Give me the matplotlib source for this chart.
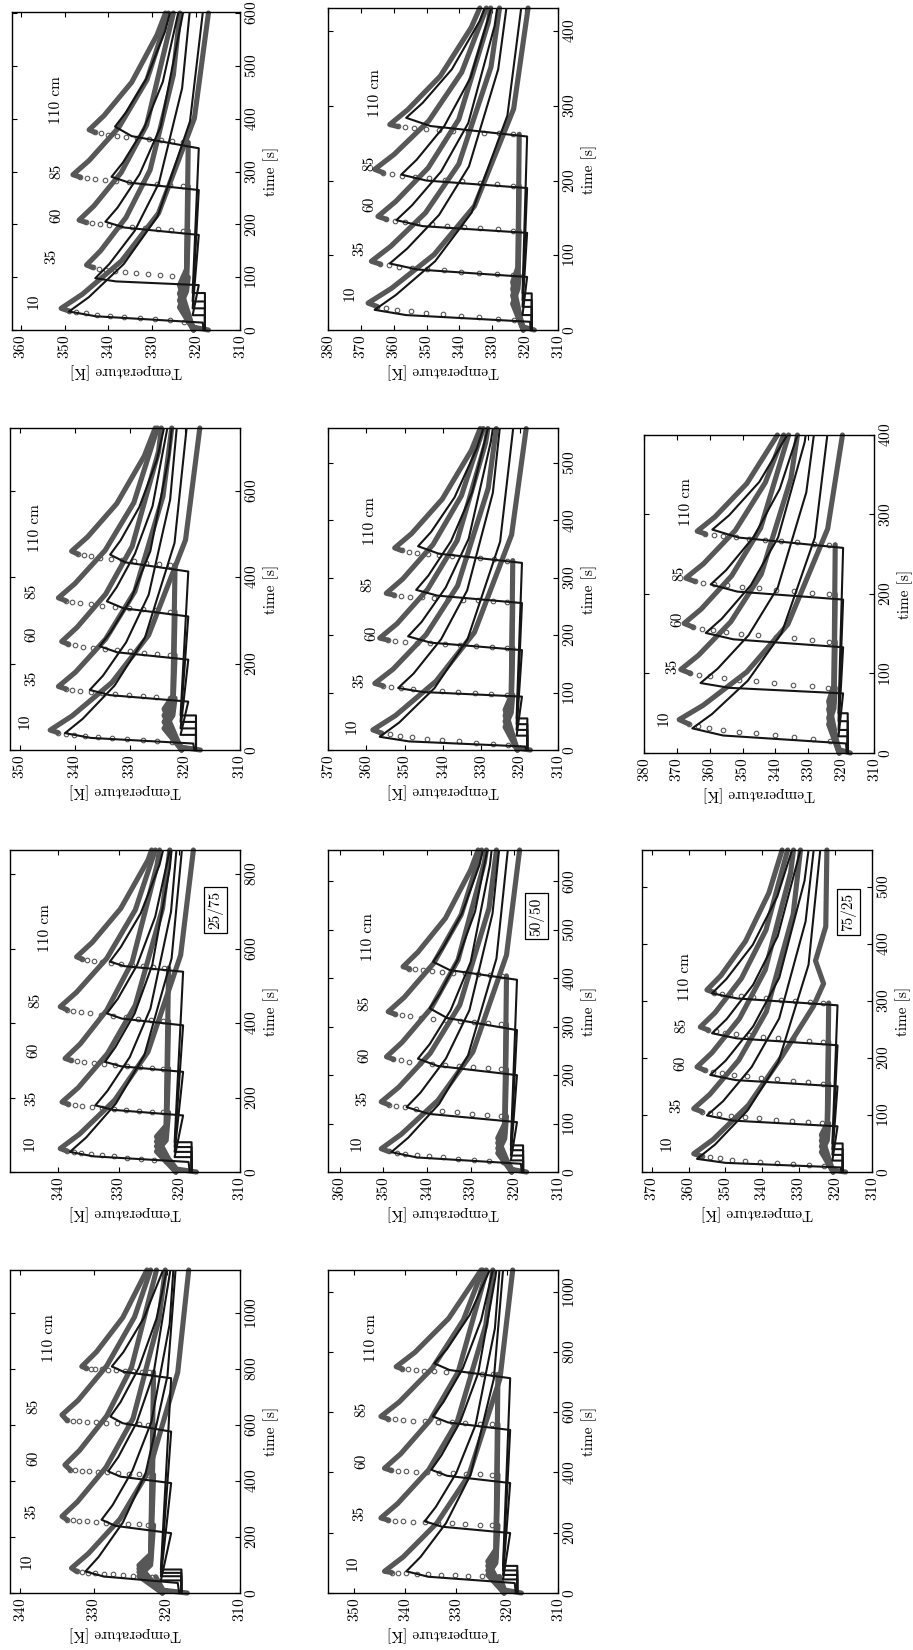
#!/usr/bin/env python3
"""Page of bed temperature histories, printed landscape and turned a quarter
turn: measured thermocouples (grey, open circles on the fast rise) against
the model (black) at 10, 35, 60, 85 and 110 cm for ten runs."""
import matplotlib.pyplot as plt

plt.rcParams["font.family"] = "cmr10"
plt.rcParams["mathtext.fontset"] = "cm"
plt.rcParams["axes.formatter.use_mathtext"] = True
plt.rcParams["font.size"] = 11

GREY = "#575757"
INK = "#151515"
DEPTHS = ["10", "35", "60", "85", "110 cm"]

# ---- data: (time [s], temperature [K]) -------------------------------------
# *_SIM  model curve per thermocouple
# *_PRE  measured, before the front arrives
# *_RISE measured samples on the fast rise (drawn as open circles)
# *_POST measured, peak and cooling

A1_SIM = [
    [(0, 318.3), (14, 318.5), (26, 342.9), (35, 349.0), (62, 344.5), (125, 336.5), (215, 328.8), (395, 321.4), (600, 318.5)],
    [(0, 318.0), (28, 318.0), (28, 320.8), (85, 319.4), (92, 338.3), (98, 343.0), (125, 339.8), (188, 334.0), (278, 328.5), (458, 323.2), (600, 321.5)],
    [(0, 318.0), (41, 318.0), (41, 320.8), (180, 319.4), (194, 336.4), (205, 340.7), (232, 337.9), (295, 332.9), (385, 328.1), (600, 323.0)],
    [(0, 318.0), (54, 318.0), (54, 320.8), (265, 319.4), (279, 335.3), (290, 339.3), (317, 336.7), (380, 332.0), (470, 327.6), (600, 324.1)],
    [(0, 318.0), (70, 318.0), (70, 320.8), (344, 319.4), (367, 334.7), (385, 338.5), (412, 336.0), (475, 331.4), (565, 327.1), (600, 326.0)],
]
A1_PRE = [
    [(0, 317.2), (5, 320.5), (16, 321.5)],
    [(0, 320.6), (43, 323.8), (73, 322.2), (100, 321.8)],
    [(0, 320.6), (56, 323.8), (86, 322.2), (188, 321.8)],
    [(0, 320.6), (69, 323.8), (99, 322.2), (272, 321.8)],
    [(0, 320.6), (85, 323.8), (115, 322.2), (355, 321.8)],
]
A1_RISE = [
    [(16, 322.7), (18.2, 325.9), (20.4, 329.4), (22.7, 332.9), (24.9, 336.4), (27.1, 339.7), (29.3, 342.6), (31.6, 345.2), (33.8, 347.3), (36.0, 349.0)],
    [(100, 322.9), (102, 325.5), (104.1, 328.2), (106.1, 331.0), (108.2, 333.7), (110.2, 336.3), (112.3, 338.6), (114.3, 340.6), (116.4, 342.2), (118.4, 343.6)],
    [(188, 323.0), (189.8, 325.7), (191.6, 328.7), (193.3, 331.6), (195.1, 334.6), (196.9, 337.3), (198.7, 339.8), (200.4, 342.0), (202.2, 343.7), (204.0, 345.2)],
    [(272, 323.0), (274, 325.9), (275.9, 329.0), (277.9, 332.2), (279.8, 335.3), (281.8, 338.2), (283.7, 340.8), (285.7, 343.1), (287.6, 345.0), (289.6, 346.5)],
    [(355, 322.9), (357.1, 325.4), (359.3, 328.0), (361.4, 330.7), (363.5, 333.4), (365.7, 335.9), (367.8, 338.1), (369.9, 340.1), (372.1, 341.7), (374.2, 343.1)],
]
A1_POST = [
    [(41, 350.8), (68, 345.9), (131, 337.0), (221, 328.6), (401, 320.4), (600, 317.2)],
    [(123, 345.0), (150, 341.8), (213, 336.0), (303, 330.5), (483, 325.2), (600, 323.7)],
    [(208, 346.7), (235, 343.3), (298, 337.1), (388, 331.3), (600, 325.2)],
    [(294, 348.1), (321, 344.4), (384, 337.6), (474, 331.2), (600, 326.3)],
    [(379, 344.4), (406, 341.0), (469, 334.7), (559, 328.9), (600, 327.0)],
]

A2_SIM = [
    [(0, 318.3), (15, 318.5), (28, 337.1), (39, 341.8), (72, 338.6), (149, 332.8), (259, 327.3), (479, 321.9), (745, 319.7)],
    [(0, 318.0), (35, 318.0), (35, 320.8), (112, 319.4), (127, 333.7), (139, 337.3), (172, 334.9), (249, 330.7), (359, 326.6), (579, 322.7), (745, 321.5)],
    [(0, 318.0), (50, 318.0), (50, 320.8), (209, 319.4), (226, 332.3), (240, 335.5), (273, 333.5), (350, 329.8), (460, 326.3), (680, 322.9), (745, 322.4)],
    [(0, 318.0), (65, 318.0), (65, 320.8), (309, 319.4), (328, 331.2), (344, 334.2), (377, 332.4), (454, 329.1), (564, 325.9), (745, 323.2)],
    [(0, 318.0), (80, 318.0), (80, 320.8), (413, 319.4), (434, 330.8), (452, 333.6), (485, 331.7), (562, 328.3), (672, 325.1), (745, 323.8)],
]
A2_PRE = [
    [(0, 317.2), (6, 320.5), (18, 321.5)],
    [(0, 320.6), (50, 323.8), (80, 322.2), (120, 321.8)],
    [(0, 320.6), (65, 323.8), (95, 322.2), (220, 321.8)],
    [(0, 320.6), (80, 323.8), (110, 322.2), (320, 321.8)],
    [(0, 320.6), (95, 323.8), (125, 322.2), (428, 321.8)],
]
A2_RISE = [
    [(18, 322.4), (20.5, 325.0), (23, 327.7), (25.5, 330.5), (28, 333.2), (30.4, 335.8), (32.9, 338.1), (35.4, 340.1), (37.9, 341.7), (40.4, 343.1)],
    [(120, 322.8), (122.4, 325.2), (124.8, 327.7), (127.2, 330.2), (129.6, 332.7), (132, 335.0), (134.4, 337.1), (136.8, 339.0), (139.2, 340.5), (141.6, 341.7)],
    [(220, 322.8), (222.8, 325.1), (225.5, 327.5), (228.3, 330.0), (231, 332.4), (233.8, 334.6), (236.5, 336.7), (239.3, 338.5), (242, 340.0), (244.8, 341.2)],
    [(320, 322.8), (322.8, 325.2), (325.7, 327.7), (328.5, 330.2), (331.4, 332.7), (334.2, 335.0), (337.1, 337.1), (339.9, 339.0), (342.8, 340.5), (345.6, 341.7)],
    [(428, 322.7), (430.8, 324.8), (433.7, 327.0), (436.5, 329.3), (439.4, 331.5), (442.2, 333.5), (445.1, 335.4), (447.9, 337.1), (450.8, 338.4), (453.6, 339.5)],
]
A2_POST = [
    [(46, 344.5), (79, 340.5), (156, 333.3), (266, 326.6), (486, 319.9), (745, 317.3)],
    [(147, 343.0), (180, 339.9), (257, 334.4), (367, 329.1), (587, 324.0), (745, 322.4)],
    [(251, 342.4), (284, 339.6), (361, 334.4), (471, 329.6), (691, 324.8), (745, 324.3)],
    [(352, 343.0), (385, 340.0), (462, 334.5), (572, 329.3), (745, 325.0)],
    [(460, 340.6), (493, 337.7), (570, 332.4), (680, 327.4), (745, 325.4)],
]

A3_SIM = [
    [(0, 318.3), (27, 318.5), (42, 334.2), (54, 338.1), (93, 335.4), (184, 330.5), (314, 325.8), (574, 321.3), (865, 319.6)],
    [(0, 318.0), (40, 318.0), (40, 320.8), (152, 319.4), (167, 331.0), (179, 333.9), (218, 331.9), (309, 328.2), (439, 324.8), (699, 321.4), (865, 320.5)],
    [(0, 318.0), (54, 318.0), (54, 320.8), (269, 319.4), (284, 329.7), (296, 332.3), (335, 330.6), (426, 327.4), (556, 324.5), (816, 321.6), (865, 321.3)],
    [(0, 318.0), (67, 318.0), (67, 320.8), (394, 319.4), (412, 329.5), (426, 332.0), (465, 330.2), (556, 327.0), (686, 324.0), (865, 321.6)],
    [(0, 318.0), (80, 318.0), (80, 320.8), (538, 319.4), (553, 329.1), (565, 331.5), (604, 329.7), (695, 326.4), (825, 323.3), (865, 322.7)],
]
A3_PRE = [
    [(0, 317.2), (8, 320.5), (30, 321.5)],
    [(0, 320.6), (55, 323.8), (85, 322.2), (160, 321.8)],
    [(0, 320.6), (69, 323.8), (99, 322.2), (278, 321.8)],
    [(0, 320.6), (82, 323.8), (112, 322.2), (405, 321.8)],
    [(0, 320.6), (95, 323.8), (125, 322.2), (548, 321.8)],
]
A3_RISE = [
    [(30, 322.2), (32.9, 324.2), (35.9, 326.4), (38.8, 328.6), (41.7, 330.8), (44.7, 332.8), (47.6, 334.6), (50.5, 336.2), (53.5, 337.5), (56.4, 338.6)],
    [(160, 322.7), (162.5, 324.6), (165, 326.7), (167.5, 328.8), (170, 330.9), (172.4, 332.8), (174.9, 334.5), (177.4, 336.1), (179.9, 337.3), (182.4, 338.4)],
    [(278, 322.7), (280.4, 324.5), (282.8, 326.6), (285.2, 328.6), (287.6, 330.6), (290, 332.5), (292.4, 334.2), (294.8, 335.7), (297.2, 336.9), (299.6, 337.9)],
    [(405, 322.7), (408.5, 324.7), (411.9, 326.8), (415.4, 328.9), (418.9, 331.0), (422.3, 333.0), (425.8, 334.7), (429.3, 336.3), (432.7, 337.6), (436.2, 338.6)],
    [(548, 322.6), (550.7, 324.3), (553.3, 326.1), (556, 327.9), (558.7, 329.7), (561.3, 331.3), (564, 332.8), (566.7, 334.2), (569.3, 335.2), (572, 336.1)],
]
A3_POST = [
    [(63, 339.7), (102, 336.5), (193, 330.7), (323, 325.2), (583, 319.8), (865, 317.7)],
    [(188, 339.4), (227, 336.7), (318, 331.9), (448, 327.3), (708, 322.8), (865, 321.6)],
    [(305, 338.9), (344, 336.4), (435, 332.0), (565, 327.8), (825, 323.7), (865, 323.3)],
    [(444, 339.7), (483, 337.0), (574, 332.0), (704, 327.3), (865, 324.0)],
    [(578, 337.0), (617, 334.4), (708, 329.7), (838, 325.2), (865, 324.6)],
]

A4_SIM = [
    [(0, 318.3), (36, 318.5), (59, 328.6), (77, 331.1), (129, 329.3), (252, 326.0), (427, 322.9), (777, 319.9), (1155, 318.8)],
    [(0, 318.0), (45, 318.0), (45, 320.8), (214, 319.4), (240, 327.0), (262, 328.9), (314, 327.4), (437, 324.7), (612, 322.1), (962, 319.6), (1155, 319.1)],
    [(0, 318.0), (60, 318.0), (60, 320.8), (393, 319.4), (416, 326.3), (435, 328.0), (487, 326.6), (610, 324.1), (785, 321.8), (1155, 319.5)],
    [(0, 318.0), (72, 318.0), (72, 320.8), (577, 319.4), (607, 326.0), (631, 327.7), (683, 326.3), (806, 323.8), (981, 321.4), (1155, 320.0)],
    [(0, 318.0), (84, 318.0), (84, 320.8), (768, 319.4), (791, 325.9), (810, 327.5), (862, 325.9), (985, 323.1), (1155, 320.5)],
]
A4_PRE = [
    [(0, 317.2), (10, 320.5), (58, 321.5)],
    [(0, 320.6), (60, 323.8), (100, 322.2), (243, 321.8)],
    [(0, 320.6), (75, 323.8), (115, 322.2), (423, 321.8)],
    [(0, 320.6), (87, 323.8), (127, 322.2), (601, 321.8)],
    [(0, 320.6), (99, 323.8), (139, 322.2), (790, 321.8)],
]
A4_RISE = [
    [(58, 322.0), (60.1, 323.2), (62.2, 324.6), (64.3, 326.0), (66.4, 327.4), (68.6, 328.6), (70.7, 329.8), (72.8, 330.8), (74.9, 331.6), (77, 332.3)],
    [(243, 322.5), (245.1, 323.8), (247.2, 325.3), (249.3, 326.8), (251.4, 328.3), (253.6, 329.6), (255.7, 330.9), (257.8, 332.0), (259.9, 332.8), (262, 333.6)],
    [(423, 322.5), (425, 323.8), (427, 325.2), (429, 326.6), (431, 328.1), (433, 329.4), (435, 330.6), (437, 331.6), (439, 332.5), (441, 333.2)],
    [(601, 322.5), (602.8, 323.8), (604.6, 325.3), (606.3, 326.8), (608.1, 328.3), (609.9, 329.6), (611.7, 330.9), (613.4, 332.0), (615.2, 332.8), (617, 333.6)],
    [(790, 322.4), (791.6, 323.4), (793.1, 324.6), (794.7, 325.7), (796.2, 326.9), (797.8, 328.0), (799.3, 328.9), (800.9, 329.8), (802.4, 330.4), (804, 331.0)],
]
A4_POST = [
    [(89, 333.0), (141, 330.7), (264, 326.4), (439, 322.4), (789, 318.5), (1155, 317.0)],
    [(274, 334.3), (326, 332.2), (449, 328.3), (624, 324.6), (974, 321.1), (1155, 320.2)],
    [(458, 333.9), (510, 331.9), (633, 328.2), (808, 324.8), (1155, 321.4)],
    [(637, 334.3), (689, 332.1), (812, 328.2), (987, 324.4), (1155, 322.2)],
    [(810, 331.6), (862, 329.6), (985, 326.0), (1155, 322.7)],
]

B1_SIM = [
    [(0, 318.3), (11, 318.5), (20, 356.3), (27, 365.8), (47, 359.3), (92, 347.4), (157, 336.3), (287, 325.4), (431, 321.2)],
    [(0, 318.0), (20, 318.0), (20, 320.8), (71, 319.4), (81, 352.8), (89, 361.2), (109, 355.9), (154, 346.2), (219, 337.1), (349, 328.2), (431, 325.7)],
    [(0, 318.0), (31, 318.0), (31, 320.8), (130, 319.4), (139, 351.2), (147, 359.2), (167, 354.4), (212, 345.6), (277, 337.3), (407, 329.3), (431, 328.5)],
    [(0, 318.0), (40, 318.0), (40, 320.8), (190, 319.4), (200, 350.0), (208, 357.7), (228, 353.0), (273, 344.6), (338, 336.6), (431, 330.3)],
    [(0, 318.0), (49, 318.0), (49, 320.8), (259, 319.4), (273, 348.8), (284, 356.2), (304, 351.2), (349, 342.3), (414, 333.8), (431, 332.3)],
]
B1_PRE = [
    [(0, 317.2), (4, 320.5), (13, 321.5)],
    [(0, 320.6), (35, 323.8), (55, 322.2), (73, 321.8)],
    [(0, 320.6), (46, 323.8), (66, 322.2), (133, 321.8)],
    [(0, 320.6), (55, 323.8), (75, 322.2), (193, 321.8)],
    [(0, 320.6), (64, 323.8), (84, 322.2), (262, 321.8)],
]
B1_RISE = [
    [(13, 323.4), (15, 328.4), (17.1, 334.0), (19.1, 339.6), (21.2, 345.1), (23.2, 350.2), (25.3, 354.8), (27.3, 359.0), (29.4, 362.2), (31.4, 365.0)],
    [(73, 323.8), (74.7, 328.7), (76.4, 334.1), (78.1, 339.5), (79.8, 344.8), (81.4, 349.8), (83.1, 354.3), (84.8, 358.3), (86.5, 361.4), (88.2, 364.1)],
    [(133, 323.7), (134.7, 328.4), (136.4, 333.6), (138.1, 338.7), (139.8, 343.8), (141.4, 348.5), (143.1, 352.8), (144.8, 356.7), (146.5, 359.7), (148.2, 362.2)],
    [(193, 323.8), (195, 328.6), (196.9, 333.8), (198.9, 339.1), (200.8, 344.3), (202.8, 349.2), (204.7, 353.5), (206.7, 357.5), (208.6, 360.5), (210.6, 363.2)],
    [(262, 323.6), (263.2, 327.9), (264.3, 332.6), (265.5, 337.3), (266.6, 342.0), (267.8, 346.3), (269, 350.2), (270.1, 353.8), (271.3, 356.5), (272.4, 358.8)],
]
B1_POST = [
    [(36, 367.8), (56, 360.6), (101, 347.7), (166, 335.4), (296, 323.5), (431, 319.1)],
    [(92, 366.8), (112, 360.9), (157, 350.3), (222, 340.2), (352, 330.4), (431, 327.8)],
    [(152, 364.8), (172, 359.4), (217, 349.5), (282, 340.2), (412, 331.2), (431, 330.5)],
    [(215, 365.8), (235, 359.9), (280, 349.3), (345, 339.3), (431, 331.8)],
    [(275, 361.2), (295, 355.7), (340, 345.8), (405, 336.4), (431, 333.8)],
]

B2_SIM = [
    [(0, 318.3), (6, 318.5), (15, 348.9), (23, 356.5), (48, 351.4), (108, 342.2), (193, 333.6), (363, 325.1), (560, 321.7)],
    [(0, 318.0), (25, 318.0), (25, 320.8), (93, 319.4), (101, 345.2), (108, 351.7), (133, 347.7), (193, 340.5), (278, 333.7), (448, 327.0), (560, 325.2)],
    [(0, 318.0), (35, 318.0), (35, 320.8), (174, 319.4), (187, 343.2), (198, 349.1), (223, 345.6), (283, 339.3), (368, 333.3), (538, 327.5), (560, 327.0)],
    [(0, 318.0), (45, 318.0), (45, 320.8), (256, 319.4), (269, 341.5), (279, 347.0), (304, 343.8), (364, 337.9), (449, 332.4), (560, 328.3)],
    [(0, 318.0), (55, 318.0), (55, 320.8), (326, 319.4), (342, 341.1), (355, 346.5), (380, 343.1), (440, 337.0), (525, 331.2), (560, 329.5)],
]
B2_PRE = [
    [(0, 317.2), (3, 320.5), (8, 321.5)],
    [(0, 320.6), (40, 323.8), (65, 322.2), (96, 321.8)],
    [(0, 320.6), (50, 323.8), (75, 322.2), (178, 321.8)],
    [(0, 320.6), (60, 323.8), (85, 322.2), (258, 321.8)],
    [(0, 320.6), (70, 323.8), (95, 322.2), (330, 321.8)],
]
B2_RISE = [
    [(8, 323.0), (10.4, 327.0), (12.8, 331.4), (15.2, 335.9), (17.6, 340.3), (20, 344.3), (22.4, 348.0), (24.8, 351.3), (27.2, 353.9), (29.6, 356.1)],
    [(96, 323.4), (97.8, 327.4), (99.6, 331.7), (101.3, 336.0), (103.1, 340.3), (104.9, 344.2), (106.7, 347.8), (108.4, 351.0), (110.2, 353.5), (112, 355.7)],
    [(178, 323.4), (179.5, 327.2), (181, 331.3), (182.5, 335.5), (184, 339.6), (185.6, 343.4), (187.1, 346.8), (188.6, 349.9), (190.1, 352.4), (191.6, 354.4)],
    [(258, 323.3), (259.3, 326.9), (260.7, 330.9), (262, 334.8), (263.3, 338.7), (264.7, 342.3), (266, 345.6), (267.3, 348.6), (268.7, 350.9), (270, 352.8)],
    [(330, 323.2), (332, 326.6), (333.9, 330.3), (335.9, 333.9), (337.8, 337.6), (339.8, 341.0), (341.7, 344.0), (343.7, 346.8), (345.6, 348.9), (347.6, 350.8)],
]
B2_POST = [
    [(35, 358.3), (60, 352.4), (120, 341.8), (205, 331.8), (375, 322.1), (560, 318.3)],
    [(116, 357.8), (141, 353.0), (201, 344.4), (286, 336.2), (456, 328.2), (560, 326.1)],
    [(195, 356.5), (220, 352.0), (280, 344.0), (365, 336.3), (535, 328.9), (560, 328.3)],
    [(273, 354.8), (298, 350.5), (358, 342.6), (443, 335.2), (560, 329.5)],
    [(352, 352.6), (377, 348.2), (437, 340.2), (522, 332.6), (560, 330.3)],
]

B3_SIM = [
    [(0, 318.3), (17, 318.5), (30, 342.3), (41, 348.2), (71, 344.3), (141, 337.2), (241, 330.6), (441, 324.1), (665, 321.5)],
    [(0, 318.0), (24, 318.0), (24, 320.8), (103, 319.4), (120, 339.6), (134, 344.7), (164, 341.5), (234, 335.7), (334, 330.3), (534, 325.0), (665, 323.5)],
    [(0, 318.0), (34, 318.0), (34, 320.8), (200, 319.4), (219, 337.6), (234, 342.1), (264, 339.4), (334, 334.6), (434, 330.0), (634, 325.6), (665, 325.2)],
    [(0, 318.0), (45, 318.0), (45, 320.8), (293, 319.4), (318, 335.4), (338, 339.4), (368, 337.1), (438, 333.0), (538, 329.0), (665, 326.2)],
    [(0, 318.0), (55, 318.0), (55, 320.8), (397, 319.4), (417, 334.8), (434, 338.6), (464, 336.3), (534, 332.0), (634, 328.0), (665, 327.2)],
]
B3_PRE = [
    [(0, 317.2), (5, 320.5), (20, 321.5)],
    [(0, 320.6), (39, 323.8), (69, 322.2), (115, 321.8)],
    [(0, 320.6), (49, 323.8), (79, 322.2), (212, 321.8)],
    [(0, 320.6), (60, 323.8), (90, 322.2), (305, 321.8)],
    [(0, 320.6), (70, 323.8), (100, 322.2), (405, 321.8)],
]
B3_RISE = [
    [(20, 322.7), (22.5, 325.9), (25, 329.3), (27.5, 332.8), (30, 336.3), (32.4, 339.5), (34.9, 342.4), (37.4, 345.0), (39.9, 347.0), (42.4, 348.8)],
    [(115, 323.1), (117.7, 326.3), (120.3, 329.7), (123, 333.1), (125.7, 336.5), (128.3, 339.7), (131, 342.5), (133.7, 345.1), (136.3, 347.1), (139, 348.8)],
    [(212, 323.1), (214.3, 326.1), (216.6, 329.4), (218.9, 332.6), (221.2, 335.9), (223.6, 338.9), (225.9, 341.7), (228.2, 344.1), (230.5, 346.0), (232.8, 347.7)],
    [(305, 323.1), (307.3, 326.0), (309.6, 329.3), (311.9, 332.5), (314.2, 335.7), (316.6, 338.7), (318.9, 341.4), (321.2, 343.8), (323.5, 345.7), (325.8, 347.3)],
    [(405, 322.9), (406.7, 325.5), (408.4, 328.3), (410.1, 331.2), (411.8, 334.0), (413.4, 336.6), (415.1, 338.9), (416.8, 341.0), (418.5, 342.7), (420.2, 344.1)],
]
B3_POST = [
    [(48, 350.5), (78, 345.9), (148, 337.5), (248, 329.5), (448, 321.8), (665, 318.8)],
    [(145, 350.5), (175, 346.5), (245, 339.3), (345, 332.5), (545, 325.8), (665, 324.1)],
    [(238, 349.3), (268, 345.7), (338, 339.1), (438, 332.9), (638, 326.9), (665, 326.4)],
    [(331, 348.9), (361, 345.2), (431, 338.5), (531, 332.2), (665, 327.5)],
    [(424, 345.5), (454, 342.1), (524, 335.8), (624, 330.0), (665, 328.3)],
]

B4_SIM = [
    [(0, 318.3), (33, 318.5), (54, 335.5), (72, 339.8), (120, 337.0), (232, 332.0), (392, 327.2), (712, 322.6), (1072, 320.8)],
    [(0, 318.0), (45, 318.0), (45, 320.8), (199, 319.4), (220, 332.8), (238, 336.2), (286, 334.0), (398, 330.0), (558, 326.2), (878, 322.4), (1072, 321.5)],
    [(0, 318.0), (60, 318.0), (60, 320.8), (365, 319.4), (389, 331.8), (409, 334.9), (457, 332.9), (569, 329.2), (729, 325.7), (1049, 322.3), (1072, 322.1)],
    [(0, 318.0), (75, 318.0), (75, 320.8), (541, 319.4), (566, 331.6), (586, 334.6), (634, 332.5), (746, 328.7), (906, 325.1), (1072, 322.8)],
    [(0, 318.0), (90, 318.0), (90, 320.8), (713, 319.4), (740, 331.3), (762, 334.3), (810, 331.8), (922, 327.4), (1072, 323.4)],
]
B4_PRE = [
    [(0, 317.2), (10, 320.5), (55, 321.5)],
    [(0, 320.6), (60, 323.8), (100, 322.2), (225, 321.8)],
    [(0, 320.6), (75, 323.8), (115, 322.2), (393, 321.8)],
    [(0, 320.6), (90, 323.8), (130, 322.2), (560, 321.8)],
    [(0, 320.6), (105, 323.8), (145, 322.2), (726, 321.8)],
]
B4_RISE = [
    [(55, 322.4), (56.4, 324.9), (57.9, 327.6), (59.3, 330.3), (60.8, 333.0), (62.2, 335.5), (63.7, 337.8), (65.1, 339.8), (66.6, 341.4), (68, 342.7)],
    [(225, 322.9), (226.9, 325.4), (228.8, 328.2), (230.7, 330.9), (232.6, 333.6), (234.4, 336.1), (236.3, 338.4), (238.2, 340.5), (240.1, 342.1), (242, 343.4)],
    [(393, 322.9), (394.6, 325.3), (396.1, 328.0), (397.7, 330.6), (399.2, 333.3), (400.8, 335.7), (402.3, 337.9), (403.9, 339.9), (405.4, 341.4), (407, 342.8)],
    [(560, 322.9), (562, 325.4), (564, 328.2), (566, 330.9), (568, 333.6), (570, 336.1), (572, 338.4), (574, 340.5), (576, 342.1), (578, 343.4)],
    [(726, 322.8), (728, 325.0), (730, 327.3), (732, 329.7), (734, 332.1), (736, 334.3), (738, 336.3), (740, 338.0), (742, 339.4), (744, 340.6)],
]
B4_POST = [
    [(72, 344.1), (120, 340.4), (232, 333.8), (392, 327.5), (712, 321.4), (1072, 318.9)],
    [(249, 344.8), (297, 341.5), (409, 335.4), (569, 329.8), (889, 324.2), (1072, 322.8)],
    [(414, 344.1), (462, 340.9), (574, 335.1), (734, 329.6), (1054, 324.3), (1072, 324.1)],
    [(586, 344.8), (634, 341.2), (746, 334.7), (906, 328.6), (1072, 324.8)],
    [(751, 341.8), (799, 338.1), (911, 331.5), (1072, 325.1)],
]

C2_SIM = [
    [(0, 318.3), (12, 318.5), (22, 355.9), (31, 365.3), (49, 359.3), (91, 348.4), (151, 338.1), (271, 328.0), (400, 324.2)],
    [(0, 318.0), (21, 318.0), (21, 320.8), (75, 319.4), (82, 354.1), (88, 362.8), (106, 357.6), (148, 348.2), (208, 339.3), (328, 330.6), (400, 328.3)],
    [(0, 318.0), (29, 318.0), (29, 320.8), (133, 319.4), (143, 352.8), (151, 361.2), (169, 356.3), (211, 347.5), (271, 339.2), (391, 331.1), (400, 330.8)],
    [(0, 318.0), (40, 318.0), (40, 320.8), (193, 319.4), (203, 351.6), (212, 359.7), (230, 355.0), (272, 346.6), (332, 338.7), (400, 333.3)],
    [(0, 318.0), (50, 318.0), (50, 320.8), (258, 319.4), (271, 351.2), (281, 359.2), (299, 354.1), (341, 344.9), (400, 336.4)],
]
C2_PRE = [
    [(0, 317.2), (4, 320.5), (15, 321.5)],
    [(0, 320.6), (36, 323.8), (56, 322.2), (82, 321.8)],
    [(0, 320.6), (44, 323.8), (64, 322.2), (140, 321.8)],
    [(0, 320.6), (55, 323.8), (75, 322.2), (200, 321.8)],
    [(0, 320.6), (65, 323.8), (85, 322.2), (262, 321.8)],
]
C2_RISE = [
    [(15, 323.4), (17.4, 328.7), (19.8, 334.4), (22.2, 340.1), (24.6, 345.9), (27, 351.1), (29.4, 355.9), (31.8, 360.2), (34.2, 363.6), (36.6, 366.4)],
    [(82, 323.9), (84, 329.0), (86.1, 334.6), (88.1, 340.3), (90.2, 345.9), (92.2, 351.0), (94.3, 355.7), (96.3, 359.9), (98.4, 363.2), (100.4, 366.0)],
    [(140, 323.8), (142, 328.9), (144.1, 334.4), (146.1, 339.9), (148.2, 345.4), (150.2, 350.4), (152.3, 355.0), (154.3, 359.1), (156.4, 362.3), (158.4, 365.1)],
    [(200, 323.8), (201.8, 328.8), (203.6, 334.2), (205.3, 339.7), (207.1, 345.1), (208.9, 350.1), (210.7, 354.6), (212.4, 358.7), (214.2, 361.9), (216, 364.6)],
    [(262, 323.7), (263.5, 328.3), (265, 333.3), (266.5, 338.3), (268, 343.3), (269.6, 347.9), (271.1, 352.1), (272.6, 355.9), (274.1, 358.8), (275.6, 361.3)],
]
C2_POST = [
    [(42, 369.3), (60, 362.0), (102, 348.7), (162, 336.2), (282, 324.1), (400, 319.6)],
    [(105, 368.8), (123, 363.4), (165, 353.6), (225, 344.3), (345, 335.3), (400, 333.3)],
    [(163, 367.8), (181, 362.6), (223, 353.3), (283, 344.5), (400, 336.0)],
    [(220, 367.3), (238, 361.9), (280, 352.2), (340, 343.1), (400, 337.5)],
    [(279, 363.8), (297, 358.4), (339, 348.7), (400, 339.4)],
]

C3_SIM = [
    [(0, 318.3), (8, 318.5), (16, 349.9), (23, 357.7), (48, 352.8), (108, 343.9), (193, 335.5), (363, 327.3), (564, 324.1)],
    [(0, 318.0), (20, 318.0), (20, 320.8), (80, 319.4), (90, 347.9), (99, 355.0), (124, 350.6), (184, 342.8), (269, 335.3), (439, 328.1), (564, 325.9)],
    [(0, 318.0), (30, 318.0), (30, 320.8), (150, 319.4), (161, 347.2), (170, 354.1), (195, 349.9), (255, 342.4), (340, 335.3), (510, 328.4), (564, 327.3)],
    [(0, 318.0), (40, 318.0), (40, 320.8), (222, 319.4), (234, 346.8), (243, 353.6), (268, 349.6), (328, 342.4), (413, 335.7), (564, 329.5)],
    [(0, 318.0), (50, 318.0), (50, 320.8), (292, 319.4), (304, 346.8), (313, 353.6), (338, 349.7), (398, 342.5), (483, 335.8), (564, 331.8)],
]
C3_PRE = [
    [(0, 317.2), (3, 320.5), (10, 321.5)],
    [(0, 320.6), (35, 323.8), (55, 322.2), (85, 321.8)],
    [(0, 320.6), (45, 323.8), (65, 322.2), (155, 321.8)],
    [(0, 320.6), (55, 323.8), (75, 322.2), (228, 321.8)],
    [(0, 320.6), (65, 323.8), (85, 322.2), (296, 321.8)],
]
C3_RISE = [
    [(10, 323.0), (12, 327.1), (13.9, 331.5), (15.9, 336.0), (17.8, 340.4), (19.8, 344.5), (21.7, 348.2), (23.7, 351.5), (25.6, 354.1), (27.6, 356.4)],
    [(85, 323.5), (87.3, 327.5), (89.6, 331.9), (91.9, 336.3), (94.2, 340.7), (96.6, 344.7), (98.9, 348.4), (101.2, 351.6), (103.5, 354.2), (105.8, 356.4)],
    [(155, 323.4), (157.6, 327.4), (160.2, 331.6), (162.7, 335.9), (165.3, 340.2), (167.9, 344.1), (170.5, 347.7), (173, 350.9), (175.6, 353.4), (178.2, 355.6)],
    [(228, 323.4), (230.3, 327.2), (232.6, 331.4), (234.9, 335.6), (237.2, 339.7), (239.6, 343.6), (241.9, 347.1), (244.2, 350.2), (246.5, 352.6), (248.8, 354.7)],
    [(296, 323.3), (298, 327.0), (300.1, 330.9), (302.1, 334.9), (304.2, 338.8), (306.2, 342.5), (308.3, 345.8), (310.3, 348.7), (312.4, 351.0), (314.4, 353.0)],
]
C3_POST = [
    [(32, 358.6), (57, 353.3), (117, 343.7), (202, 334.6), (290, 326.0), (330, 323.2), (370, 325.4), (430, 322.6), (564, 322.3)],
    [(111, 358.6), (136, 354.2), (196, 346.3), (281, 338.8), (451, 331.5), (564, 329.5)],
    [(184, 357.7), (209, 353.6), (269, 346.1), (354, 339.1), (524, 332.2), (564, 331.4)],
    [(254, 356.8), (279, 352.8), (339, 345.6), (424, 338.9), (564, 333.0)],
    [(319, 355.0), (344, 351.2), (404, 344.5), (489, 338.1), (564, 334.5)],
]

RUNS = {
    "A1": (A1_SIM, A1_PRE, A1_RISE, A1_POST),
    "A2": (A2_SIM, A2_PRE, A2_RISE, A2_POST),
    "A3": (A3_SIM, A3_PRE, A3_RISE, A3_POST),
    "A4": (A4_SIM, A4_PRE, A4_RISE, A4_POST),
    "B1": (B1_SIM, B1_PRE, B1_RISE, B1_POST),
    "B2": (B2_SIM, B2_PRE, B2_RISE, B2_POST),
    "B3": (B3_SIM, B3_PRE, B3_RISE, B3_POST),
    "B4": (B4_SIM, B4_PRE, B4_RISE, B4_POST),
    "C2": (C2_SIM, C2_PRE, C2_RISE, C2_POST),
    "C3": (C3_SIM, C3_PRE, C3_RISE, C3_POST),
}

# ---- page layout (pixels on the turned page) and axis ranges ---------------
W, H = 913, 1650
BOX = {  # x0, y0, x1, y1
    "A1": (12, 12, 240, 330), "A2": (10, 428, 240, 750),
    "A3": (10, 850, 240, 1172), "A4": (10, 1270, 240, 1593),
    "B1": (328, 8, 558, 330), "B2": (328, 428, 558, 750),
    "B3": (328, 850, 558, 1172), "B4": (328, 1270, 558, 1593),
    "C2": (644, 435, 874, 753), "C3": (642, 850, 872, 1172),
}
T_TOP = {"A1": 362, "A2": 351.8, "A3": 348, "A4": 341.4, "B1": 380,
         "B2": 370, "B3": 362.7, "B4": 355.2, "C2": 380, "C3": 372.7}
T_END = {"A1": 602, "A2": 745, "A3": 865, "A4": 1155, "B1": 431,
         "B2": 561, "B3": 665, "B4": 1072, "C2": 400, "C3": 564}
T_STEP = {"A1": 100, "A2": 200, "A3": 200, "A4": 200, "B1": 100,
          "B2": 100, "B3": 100, "B4": 200, "C2": 100, "C3": 100}
LABEL_AT = {  # (T, t) of the depth labels
    "A1": [(357, 54), (353, 139), (351.9, 218), (351.9, 300), (351.9, 436)],
    "A2": [(349.1, 66), (347.9, 166), (347.9, 267), (347.9, 367), (347.3, 514)],
    "A3": [(344.7, 76), (344.4, 197), (344.1, 327), (343.8, 461), (342.2, 654)],
    "A4": [(339.1, 113), (338.4, 292), (338.2, 482), (338.2, 667), (336.1, 911)],
    "B1": [(373.4, 49), (370.4, 109), (367.3, 168), (367.3, 223), (365.8, 317)],
    "B2": [(363.9, 41), (361.7, 122), (358.7, 203), (359.6, 288), (359.1, 398)],
    "B3": [(356.2, 59), (354.7, 152), (354.3, 241), (354.3, 348), (353.5, 486)],
    "B4": [(350.3, 99), (349.0, 265), (348.7, 436), (348.7, 608), (346.7, 845)],
    "C2": [(373.9, 44), (371.4, 109), (369.9, 168), (369.3, 226), (367.3, 316)],
    "C3": [(365.9, 50), (363.2, 117), (362.3, 190), (361.8, 257), (360.9, 342)],
}
TAG = {"A3": ("25/75", 314.1, 703), "B3": ("50/50", 315.0, 528),
       "C3": ("75/25", 316.4, 456)}


def draw(ax, key):
    sim, pre, rise, post = RUNS[key]
    # the thick band picks up again from the last sample of the fast rise
    bands = pre + [r[-1:] + p for r, p in zip(rise, post)]
    for seg in bands:
        t, T = zip(*seg)
        ax.plot(T, t, color=GREY, lw=3.7, solid_capstyle="round",
                solid_joinstyle="round", clip_on=False, zorder=2)
    for seg in rise:
        t, T = zip(*seg)
        ax.plot(T, t, ls="none", marker="o", ms=3.3, mfc="none", mec=GREY,
                mew=0.8, zorder=2.5)
    for seg in sim:
        t, T = zip(*seg)
        ax.plot(T, t, color=INK, lw=1.5, zorder=3)

    for (T, t), name in zip(LABEL_AT[key], DEPTHS):
        ax.text(T, t, name, rotation=90, ha="center", va="center")
    if key in TAG:
        txt, T, t = TAG[key]
        ax.text(T, t, txt, rotation=90, ha="center", va="center",
                bbox=dict(boxstyle="square,pad=0.25", fc="white", ec="black",
                          lw=0.9))

    # temperature runs right-to-left, time bottom-to-top (page is turned)
    ax.set_xlim(T_TOP[key], 310)
    ax.set_ylim(0, T_END[key])
    ax.set_xticks(range(310, int(T_TOP[key]) // 10 * 10 + 1, 10))
    step = T_STEP[key]
    ax.set_yticks(range(0, int(T_END[key]) // step * step + 1, step))
    ax.tick_params(direction="in", length=3.5, width=0.8, pad=3,
                   top=True, bottom=True, left=True, right=True,
                   labelleft=False, labelright=True)
    plt.setp(ax.get_xticklabels(), rotation=90)
    plt.setp(ax.get_yticklabels(), rotation=90, va="center")
    ax.set_xlabel("Temperature [K]", rotation=180, labelpad=3)
    ax.set_ylabel("time [s]", labelpad=3)
    ax.yaxis.set_label_position("right")
    for s in ax.spines.values():
        s.set_linewidth(1.0)


fig = plt.figure(figsize=(W / 100, H / 100), dpi=100)
for key, (x0, y0, x1, y1) in BOX.items():
    ax = fig.add_axes([x0 / W, 1 - y1 / H, (x1 - x0) / W, (y1 - y0) / H])
    draw(ax, key)

fig.savefig("out.png", dpi=100)
